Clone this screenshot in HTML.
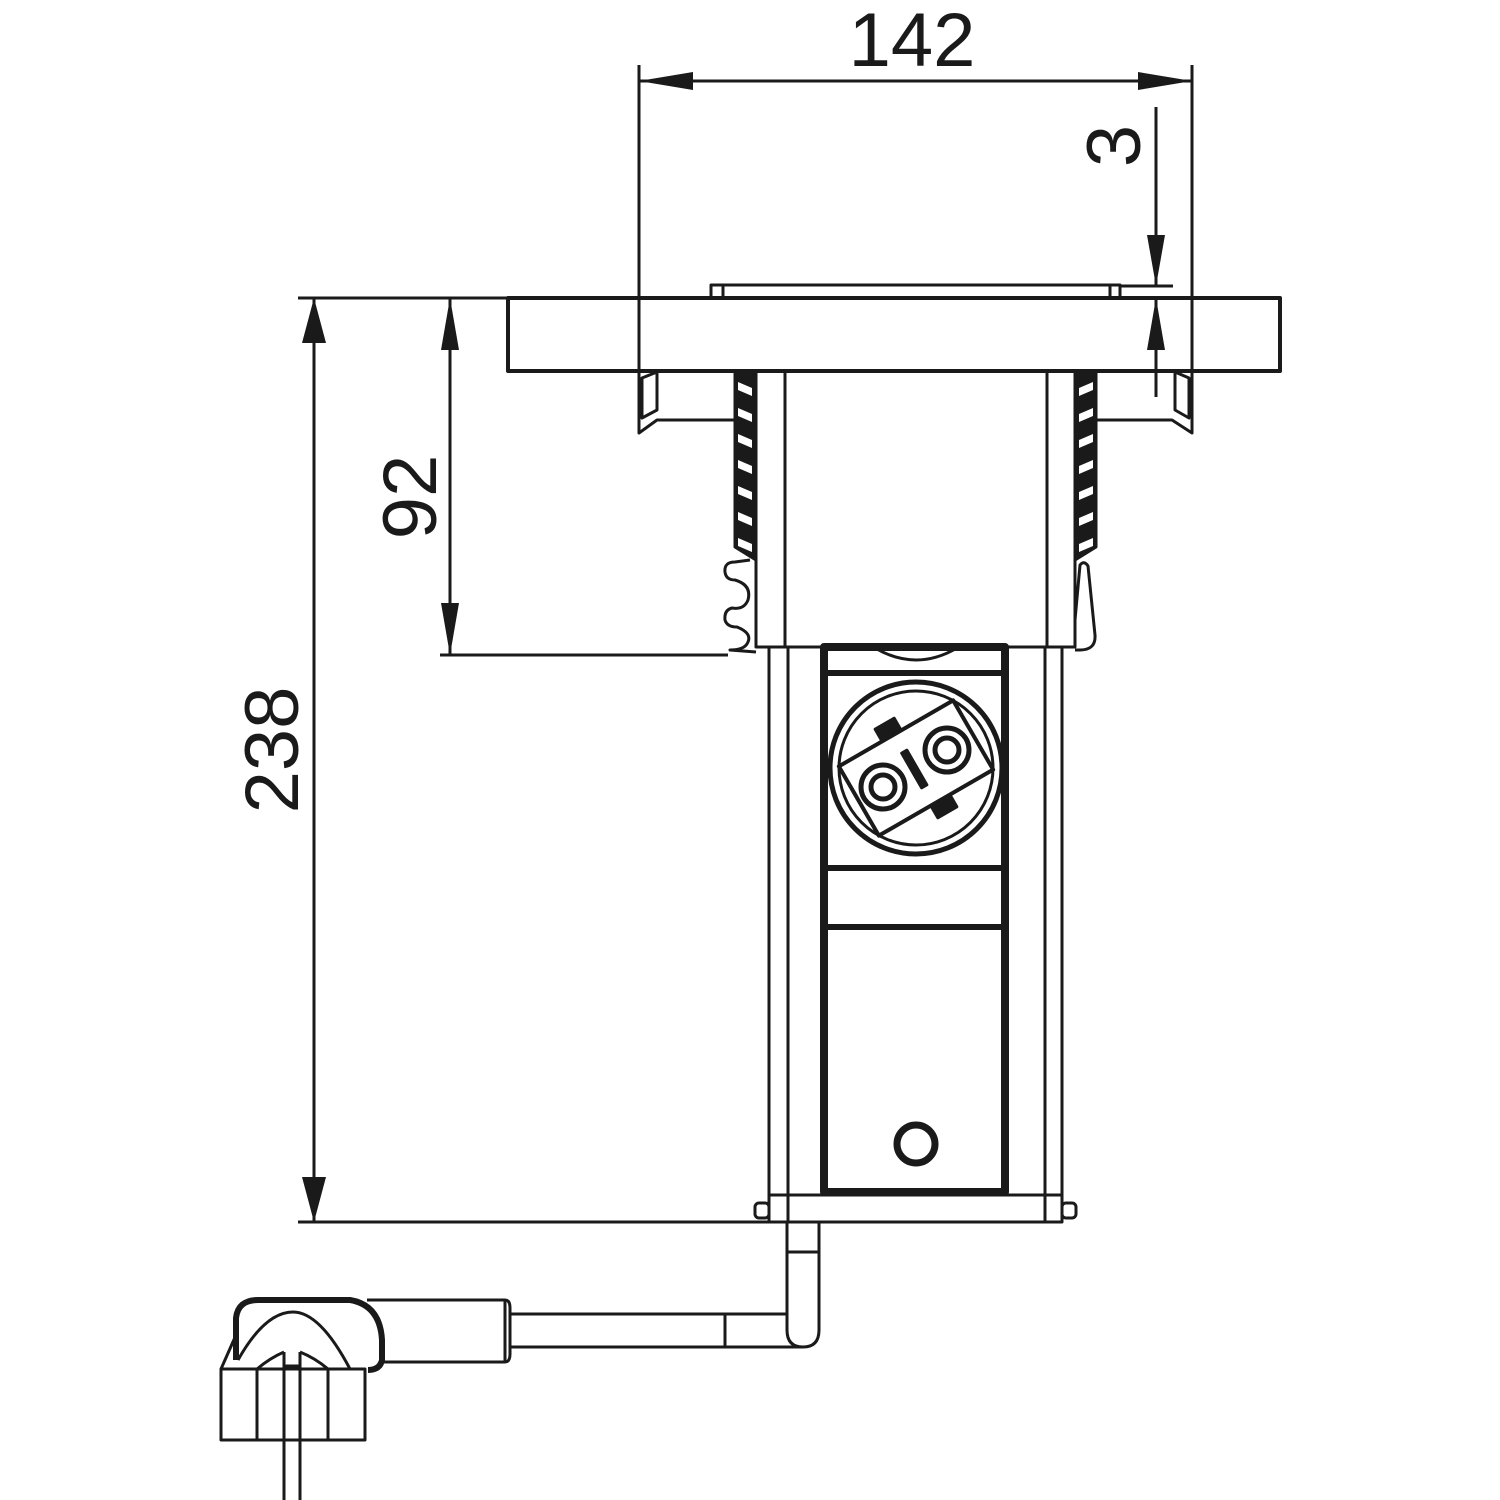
<!DOCTYPE html>
<html><head><meta charset="utf-8"><style>html,body{margin:0;padding:0;background:#fff}svg{display:block}</style></head>
<body>
<svg width="1500" height="1500" viewBox="0 0 1500 1500" xmlns="http://www.w3.org/2000/svg">
<g fill="none" stroke="#1a1a1a" stroke-width="3" stroke-linejoin="round">
<line x1="639" y1="65" x2="639" y2="433"/>
<line x1="1192" y1="65" x2="1192" y2="433"/>
<line x1="639" y1="81" x2="1192" y2="81"/>
<polygon points="639,81 693,72 693,90" fill="#1a1a1a" stroke="none"/>
<polygon points="1192,81 1138,72 1138,90" fill="#1a1a1a" stroke="none"/>
<line x1="1156" y1="107" x2="1156" y2="286"/>
<polygon points="1156,286 1147,235 1165,235" fill="#1a1a1a" stroke="none"/>
<line x1="1120" y1="286" x2="1173" y2="286"/>
<line x1="1156" y1="298" x2="1156" y2="397"/>
<polygon points="1156,298 1147,350 1165,350" fill="#1a1a1a" stroke="none"/>
<line x1="298" y1="298" x2="508" y2="298"/>
<line x1="314" y1="298" x2="314" y2="1222"/>
<polygon points="314,298 302,343 326,343" fill="#1a1a1a" stroke="none"/>
<polygon points="314,1222 302,1177 326,1177" fill="#1a1a1a" stroke="none"/>
<line x1="298" y1="1222" x2="769" y2="1222"/>
<line x1="450" y1="298" x2="450" y2="655"/>
<polygon points="450,298 441,350 459,350" fill="#1a1a1a" stroke="none"/>
<polygon points="450,655 441,603 459,603" fill="#1a1a1a" stroke="none"/>
<line x1="440" y1="655" x2="728" y2="655"/>
<rect x="508" y="298" width="772" height="73" stroke-width="4"/>
<rect x="711" y="285" width="409" height="13"/>
<line x1="723" y1="286" x2="723" y2="298"/>
<line x1="1110" y1="286" x2="1110" y2="298"/>
<polyline points="639,372 639,433 657,420 735,420"/>
<polygon points="642,378 657,372 657,410 642,418"/>
<polyline points="1192,372 1192,433 1172,420 1096,420"/>
<polygon points="1189,378 1175,372 1175,410 1189,418"/>
<rect x="756" y="371" width="319" height="276"/>
<line x1="785" y1="371" x2="785" y2="647"/>
<line x1="1047" y1="371" x2="1047" y2="647"/>
<polygon points="735,372 756,372 756,560 735,547" fill="#1a1a1a"/>
<polygon points="1075,372 1096,372 1096,547 1075,560" fill="#1a1a1a"/>
</g>
<g fill="#fff">
<polygon points="738,382 752,388 752,396 738,390"/><polygon points="738,408 752,414 752,422 738,416"/>
<polygon points="738,434 752,440 752,448 738,442"/><polygon points="738,460 752,466 752,474 738,468"/>
<polygon points="738,486 752,492 752,500 738,494"/><polygon points="738,512 752,518 752,526 738,520"/>
<polygon points="738,538 752,544 752,552 738,546"/>
<polygon points="1079,388 1093,382 1093,390 1079,396"/><polygon points="1079,414 1093,408 1093,416 1079,422"/>
<polygon points="1079,440 1093,434 1093,442 1079,448"/><polygon points="1079,466 1093,460 1093,468 1079,474"/>
<polygon points="1079,492 1093,486 1093,494 1079,500"/><polygon points="1079,518 1093,512 1093,520 1079,526"/>
<polygon points="1079,544 1093,538 1093,546 1079,552"/>
</g>
<g fill="none" stroke="#1a1a1a" stroke-width="3" stroke-linejoin="round">
<path d="M750,560 L735,562 Q724,562 725,572 Q726,580 735,580 Q752,585 748,600 Q744,610 732,608 Q724,610 725,620 Q727,627 737,627 Q752,633 748,642 Q745,650 730,650 L756,652"/>
<path d="M1075,620 L1080,565 Q1084,560 1088,566 L1095,635 Q1096,650 1080,650 L1075,650"/>
<line x1="769" y1="647" x2="769" y2="1222"/>
<line x1="788" y1="647" x2="788" y2="1222"/>
<line x1="1045" y1="647" x2="1045" y2="1222"/>
<line x1="1062" y1="647" x2="1062" y2="1222"/>
<path d="M875,648 Q916,672 957,648"/>
<rect x="824" y="647" width="181" height="545" stroke-width="8"/>
<line x1="824" y1="673" x2="1005" y2="673" stroke-width="6"/>
<line x1="824" y1="868" x2="1005" y2="868" stroke-width="6"/>
<line x1="824" y1="927" x2="1005" y2="927" stroke-width="6"/>
<circle cx="916" cy="768" r="86" stroke-width="5"/>
<circle cx="916" cy="768" r="77" stroke-width="3"/>
<g transform="rotate(-30 916 768)">
<rect x="850" y="728" width="132" height="80" stroke-width="4"/>
<rect x="900" y="714" width="22" height="14" fill="#1a1a1a"/>
<rect x="910" y="808" width="22" height="14" fill="#1a1a1a"/>
<rect x="911" y="748" width="6" height="40" fill="#1a1a1a"/>
</g>
<circle cx="883" cy="787" r="22" stroke-width="5"/>
<circle cx="883" cy="787" r="12" stroke-width="5"/>
<circle cx="947" cy="750" r="22" stroke-width="5"/>
<circle cx="947" cy="750" r="12" stroke-width="5"/>
<circle cx="916" cy="1144" r="19" stroke-width="7"/>
<rect x="769" y="1195" width="293" height="27" stroke-width="3"/>
<rect x="755" y="1203" width="14" height="15" rx="4"/>
<rect x="1062" y="1203" width="14" height="15" rx="4"/>
<path d="M787,1222 L787,1330 Q787,1347 803,1347 Q819,1347 819,1330 L819,1222"/>
<line x1="787" y1="1252" x2="819" y2="1252"/>
<line x1="510" y1="1314" x2="787" y2="1314"/>
<line x1="510" y1="1347" x2="803" y2="1347"/>
<line x1="725" y1="1314" x2="725" y2="1347"/>
<path d="M367,1300 L505,1300 Q510,1300 510,1308 L510,1354 Q510,1362 505,1362 L382,1362"/>
<line x1="505" y1="1300" x2="505" y2="1362"/>
<path d="M236,1360 L236,1318 Q238,1300 258,1300 L350,1300 Q380,1305 382,1340 L382,1360 Q380,1370 368,1370" stroke-width="6"/>
<path d="M238,1360 Q265,1312 293,1312 Q320,1312 350,1369"/>
<path d="M221,1369 L236,1335"/>
<rect x="221" y="1369" width="144" height="71"/>
<line x1="257" y1="1369" x2="257" y2="1440"/>
<line x1="328" y1="1369" x2="328" y2="1440"/>
<path d="M257,1369 Q270,1358 284,1352 M300,1352 Q315,1358 328,1369"/>
<line x1="284" y1="1352" x2="284" y2="1500"/>
<line x1="300" y1="1352" x2="300" y2="1500"/>
<line x1="284" y1="1366" x2="300" y2="1366"/>
</g>
<g fill="#1a1a1a" font-family="'Liberation Sans', sans-serif" font-size="76" text-anchor="middle">
<text x="912" y="66">142</text>
<text transform="translate(1140,146) rotate(-90)">3</text>
<text transform="translate(436,497) rotate(-90)">92</text>
<text transform="translate(298,750) rotate(-90)">238</text>
</g>
</svg>
</body></html>
